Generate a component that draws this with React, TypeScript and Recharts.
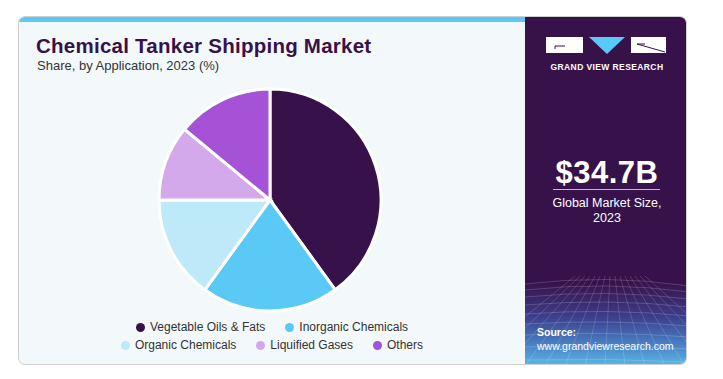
import { PieChart, Pie, Cell, Legend } from "recharts";

const categories = [
  "Vegetable Oils & Fats",
  "Inorganic Chemicals",
  "Organic Chemicals",
  "Liquified Gases",
  "Others",
];
const shares = [40, 20, 15, 11, 14];
const colors = ["#37124a", "#5bc9f5", "#bde9f8", "#d4a9eb", "#a552d6"];

const pieData = categories.map((name, i) => ({ name, value: shares[i], color: colors[i] }));

const FONT = "'Liberation Sans', Arial, sans-serif";

// legend keeps the series order, two rows like the original
function LegendRows() {
  const rows = [pieData.slice(0, 2), pieData.slice(2)];
  return (
    <div style={{ fontFamily: FONT, fontSize: 12, color: "#333" }}>
      {rows.map((row, r) => (
        <div key={r} style={{ display: "flex", justifyContent: "center", gap: 20, height: 18 }}>
          {row.map((it) => (
            <div key={it.name} style={{ display: "flex", alignItems: "center", gap: 5 }}>
              <span
                style={{ width: 9, height: 9, borderRadius: "50%", background: it.color, display: "inline-block" }}
              />
              {it.name}
            </div>
          ))}
        </div>
      ))}
    </div>
  );
}

function Mesh() {
  const hLines = [0, 6, 13, 21, 30, 40, 51, 63, 76];
  const vLines = Array.from({ length: 15 }, (_, i) => i);
  return (
    <svg width={164} height={90} style={{ position: "absolute", left: 0, bottom: 0 }}>
      {hLines.map((y, i) => (
        <path
          key={"h" + i}
          d={`M0 ${y + 8} Q 82 ${y - 2 + i} 164 ${y + 10}`}
          stroke="rgba(255,255,255,0.22)"
          fill="none"
          strokeWidth={0.8}
        />
      ))}
      {vLines.map((i) => (
        <path
          key={"v" + i}
          d={`M${50 + i * 5} 0 L ${-60 + i * 20} 90`}
          stroke="rgba(255,255,255,0.2)"
          fill="none"
          strokeWidth={0.8}
        />
      ))}
    </svg>
  );
}

export default function App() {
  return (
    <div style={{ position: "absolute", left: 0, top: 0, width: 723, height: 379, background: "#fff", fontFamily: FONT }}>
      <div
        style={{
          position: "absolute",
          left: 18,
          top: 16,
          width: 669,
          height: 349,
          border: "1px solid #cfcfcf",
          borderRadius: 7,
          overflow: "hidden",
          boxSizing: "border-box",
          background: "#f3f8fb",
        }}
      >
        <div style={{ position: "absolute", left: 0, top: 0, width: 506, height: 5, background: "#5bc9f5" }} />
        <div
          style={{
            position: "absolute",
            left: 17,
            top: 17,
            fontSize: 20.5,
            fontWeight: 900,
            color: "#37124a",
            letterSpacing: 0.25,
          }}
        >
          Chemical Tanker Shipping Market
        </div>
        <div style={{ position: "absolute", left: 18, top: 41, fontSize: 13, color: "#333" }}>
          Share, by Application, 2023 (%)
        </div>

        <div style={{ position: "absolute", left: 0, top: 0 }}>
          <PieChart width={506} height={347} margin={{ top: 0, right: 0, bottom: 0, left: 0 }}>
            <Pie
              data={pieData}
              dataKey="value"
              nameKey="name"
              cx={251}
              cy={183}
              outerRadius={111}
              startAngle={90}
              endAngle={-270}
              stroke="#ffffff"
              strokeWidth={3}
              isAnimationActive={false}
            >
              {pieData.map((d, i) => (
                <Cell key={i} fill={d.color} />
              ))}
            </Pie>
            <Legend
              layout="horizontal"
              verticalAlign="bottom"
              align="center"
              content={<LegendRows />}
              wrapperStyle={{ left: 0, width: 506, bottom: 10 }}
            />
          </PieChart>
        </div>

        <div
          style={{
            position: "absolute",
            left: 506,
            top: 0,
            width: 164,
            height: 349,
            background: "linear-gradient(180deg, #37124a 0%, #37124a 76%, #3c3f8c 86%, #4a82c6 94%, #5ab8e6 100%)",
            color: "#fff",
          }}
        >
          <Mesh />
          <svg width={164} height={60} style={{ position: "absolute", left: 0, top: 18 }}>
            <rect x={21} y={2} width={37} height={16} fill="#fff" />
            <path d="M30 11 L40 11" stroke="#37124a" strokeWidth={1} />
            <path d="M30 11 L30 14" stroke="#37124a" strokeWidth={1} />
            <polygon points="64,2 100,2 82,19" fill="#5bc9f5" />
            <rect x={106} y={2} width={35} height={16} fill="#fff" />
            <path d="M112 9 L140 17" stroke="#37124a" strokeWidth={1} />
            <path d="M112 9 L120 9" stroke="#37124a" strokeWidth={1} />
            <text x={82} y={35} textAnchor="middle" fontSize={8.5} fontWeight={700} fill="#fff" fontFamily={FONT} letterSpacing={0.4}>
              GRAND VIEW RESEARCH
            </text>
          </svg>
          <div style={{ position: "absolute", left: 0, width: 164, top: 138, textAlign: "center", fontSize: 31, fontWeight: 700, letterSpacing: 0.5 }}>
            $34.7B
          </div>
          <div style={{ position: "absolute", left: 28, width: 107, top: 172, height: 1, background: "#c6b2d4" }} />
          <div style={{ position: "absolute", left: 0, width: 164, top: 179, textAlign: "center", fontSize: 12.5, lineHeight: "15px" }}>
            Global Market Size,
            <br />
            2023
          </div>
          <div style={{ position: "absolute", left: 12, top: 308, fontSize: 10.5, lineHeight: "14px" }}>
            <div style={{ fontWeight: 700 }}>Source:</div>
            <div>www.grandviewresearch.com</div>
          </div>
        </div>
      </div>
    </div>
  );
}
